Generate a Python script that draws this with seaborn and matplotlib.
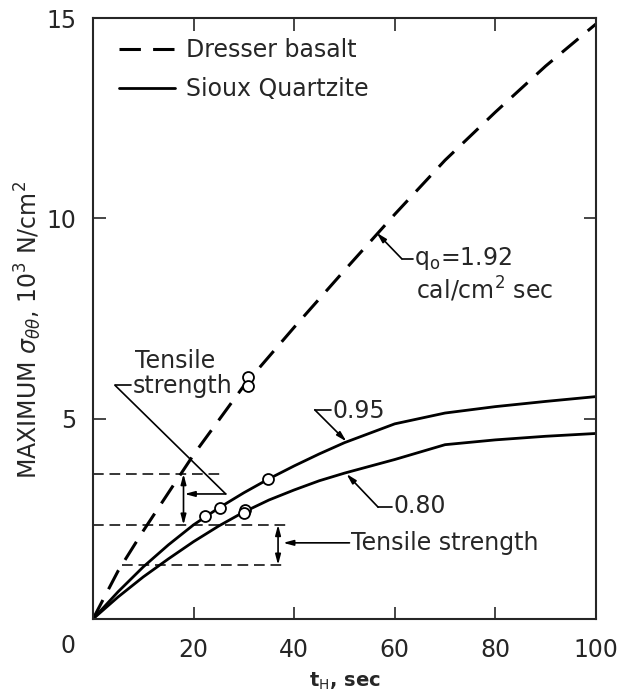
import matplotlib
matplotlib.use("Agg")
import matplotlib.pyplot as plt
import seaborn as sns

# Maximum tangential stress vs. heating time
t_basalt = [0, 5, 10, 20, 30, 40, 50, 60, 70, 80, 90, 100]
sigma_basalt = [0, 1.2, 2.2, 4.1, 5.82, 7.28, 8.7, 10.1, 11.45, 12.65, 13.8, 14.85]

t_quartz = [0, 5, 10, 15, 20, 25, 30, 35, 40, 45, 50, 60, 70, 80, 90, 100]
sigma_q095 = [0, 0.68, 1.3, 1.85, 2.35, 2.77, 3.15, 3.5, 3.82, 4.12, 4.4, 4.87, 5.14, 5.3, 5.43, 5.55]
sigma_q080 = [0, 0.55, 1.05, 1.5, 1.93, 2.32, 2.67, 2.97, 3.22, 3.45, 3.64, 3.98, 4.35, 4.47, 4.56, 4.63]

# measured (failure) points
basalt_pts_t = [30.9, 30.9]
basalt_pts_sigma = [6.03, 5.82]
q095_pts_t = [22.3, 25.2, 34.8]
q095_pts_sigma = [2.56, 2.77, 3.5]
q080_pts_t = [30.2, 30.0]
q080_pts_sigma = [2.73, 2.64]

# tensile strength bands (10^3 N/cm^2)
ts_basalt = [2.35, 3.62]
ts_quartz = [1.35, 2.35]

x_ticks = [20, 40, 60, 80, 100]
y_ticks = [5, 10, 15]

sns.set_style("ticks")
plt.rcParams["font.family"] = ["DejaVu Sans"]
plt.rcParams["mathtext.fontset"] = "dejavusans"

fig = plt.figure(figsize=(6.24, 6.95), dpi=100)
ax = fig.add_axes([0.149, 0.1094, 0.806, 0.8647])

dash = (0, (7, 4))
sns.lineplot(x=t_basalt, y=sigma_basalt, ax=ax, color="black", linewidth=2.2,
             linestyle=dash, label="Dresser basalt")
sns.lineplot(x=t_quartz, y=sigma_q095, ax=ax, color="black", linewidth=2.0,
             label="Sioux Quartzite")
sns.lineplot(x=t_quartz, y=sigma_q080, ax=ax, color="black", linewidth=2.0)

for tx, sy in [(basalt_pts_t, basalt_pts_sigma), (q095_pts_t, q095_pts_sigma),
               (q080_pts_t, q080_pts_sigma)]:
    sns.scatterplot(x=tx, y=sy, ax=ax, s=62, color="white", edgecolor="black",
                    linewidth=1.3, zorder=5, legend=False)

# tensile strength reference lines
hdash = (0, (7, 3.8))
ax.hlines(ts_basalt[1], 0, 25.3, color="black", lw=1.1, linestyles=[hdash])
ax.hlines(ts_basalt[0], 0, 38.4, color="black", lw=1.1, linestyles=[hdash])
ax.hlines(ts_quartz[0], 5.8, 38.2, color="black", lw=1.1, linestyles=[hdash])

dbl = dict(arrowstyle="<|-|>,head_length=0.6,head_width=0.16", color="black",
           lw=1.2, shrinkA=0, shrinkB=0)
one = dict(arrowstyle="-|>,head_length=0.6,head_width=0.16", color="black",
           lw=1.2, shrinkA=0, shrinkB=0)
ax.annotate("", xy=(18.0, ts_basalt[1]), xytext=(18.0, ts_basalt[0]), arrowprops=dbl)
ax.annotate("", xy=(36.8, ts_quartz[1]), xytext=(36.8, ts_quartz[0]), arrowprops=dbl)

fs = 17
# upper "Tensile strength" callout
ax.text(8.3, 6.43, "Tensile", fontsize=fs, ha="left", va="center")
ax.text(7.9, 5.82, "strength", fontsize=fs, ha="left", va="center")
ax.plot([4.4, 7.5], [5.83, 5.83], color="black", lw=1.2)
ax.plot([4.4, 26.4], [5.83, 3.12], color="black", lw=1.2)
ax.annotate("", xy=(18.2, 3.12), xytext=(26.4, 3.12), arrowprops=one)

# lower "Tensile strength" callout
ax.annotate("", xy=(37.8, 1.9), xytext=(51.0, 1.9), arrowprops=one)
ax.text(51.3, 1.9, "Tensile strength", fontsize=fs, ha="left", va="center")

# heat flux label
ax.annotate("", xy=(56.4, 9.64), xytext=(61.4, 8.99), arrowprops=one)
ax.plot([61.4, 63.6], [8.99, 8.99], color="black", lw=1.2)
ax.text(63.9, 9.0, r"q$_{\rm o}$=1.92", fontsize=fs, ha="left", va="center")
ax.text(64.2, 8.22, r"cal/cm$^2$ sec", fontsize=fs, ha="left", va="center")

# curve labels
ax.annotate("", xy=(50.4, 4.43), xytext=(44.1, 5.22), arrowprops=one)
ax.plot([44.1, 47.3], [5.22, 5.22], color="black", lw=1.2)
ax.text(47.7, 5.19, "0.95", fontsize=fs, ha="left", va="center")

ax.annotate("", xy=(50.4, 3.62), xytext=(56.7, 2.79), arrowprops=one)
ax.plot([56.7, 59.4], [2.79, 2.79], color="black", lw=1.2)
ax.text(59.7, 2.81, "0.80", fontsize=fs, ha="left", va="center")

ax.set_xlim(0, 100)
ax.set_ylim(0, 15)
ax.set_xticks(x_ticks)
ax.set_yticks(y_ticks)
ax.tick_params(direction="in", length=9, width=1.2, top=True, right=True,
               labelsize=fs, pad=14)
ax.tick_params(axis="y", pad=12)
ax.text(-5, -0.68, "0", fontsize=fs, ha="center", va="center", clip_on=False)
for sp in ax.spines.values():
    sp.set_linewidth(1.5)
    sp.set_visible(True)

ax.set_ylabel(r"MAXIMUM $\sigma_{\theta\theta}$, 10$^3$ N/cm$^2$", fontsize=17)
ax.yaxis.set_label_coords(-0.098, 0.48)
ax.set_xlabel(r"t$_{\rm H}$, sec", fontsize=14, fontweight="bold")
ax.xaxis.set_label_coords(0.5, -0.086)

ax.legend(loc="upper left", bbox_to_anchor=(0.052, 0.966), frameon=False,
          fontsize=fs, handlelength=2.37, handletextpad=0.47, labelspacing=0.62,
          borderpad=0, borderaxespad=0)

fig.savefig("out.png", dpi=100)
